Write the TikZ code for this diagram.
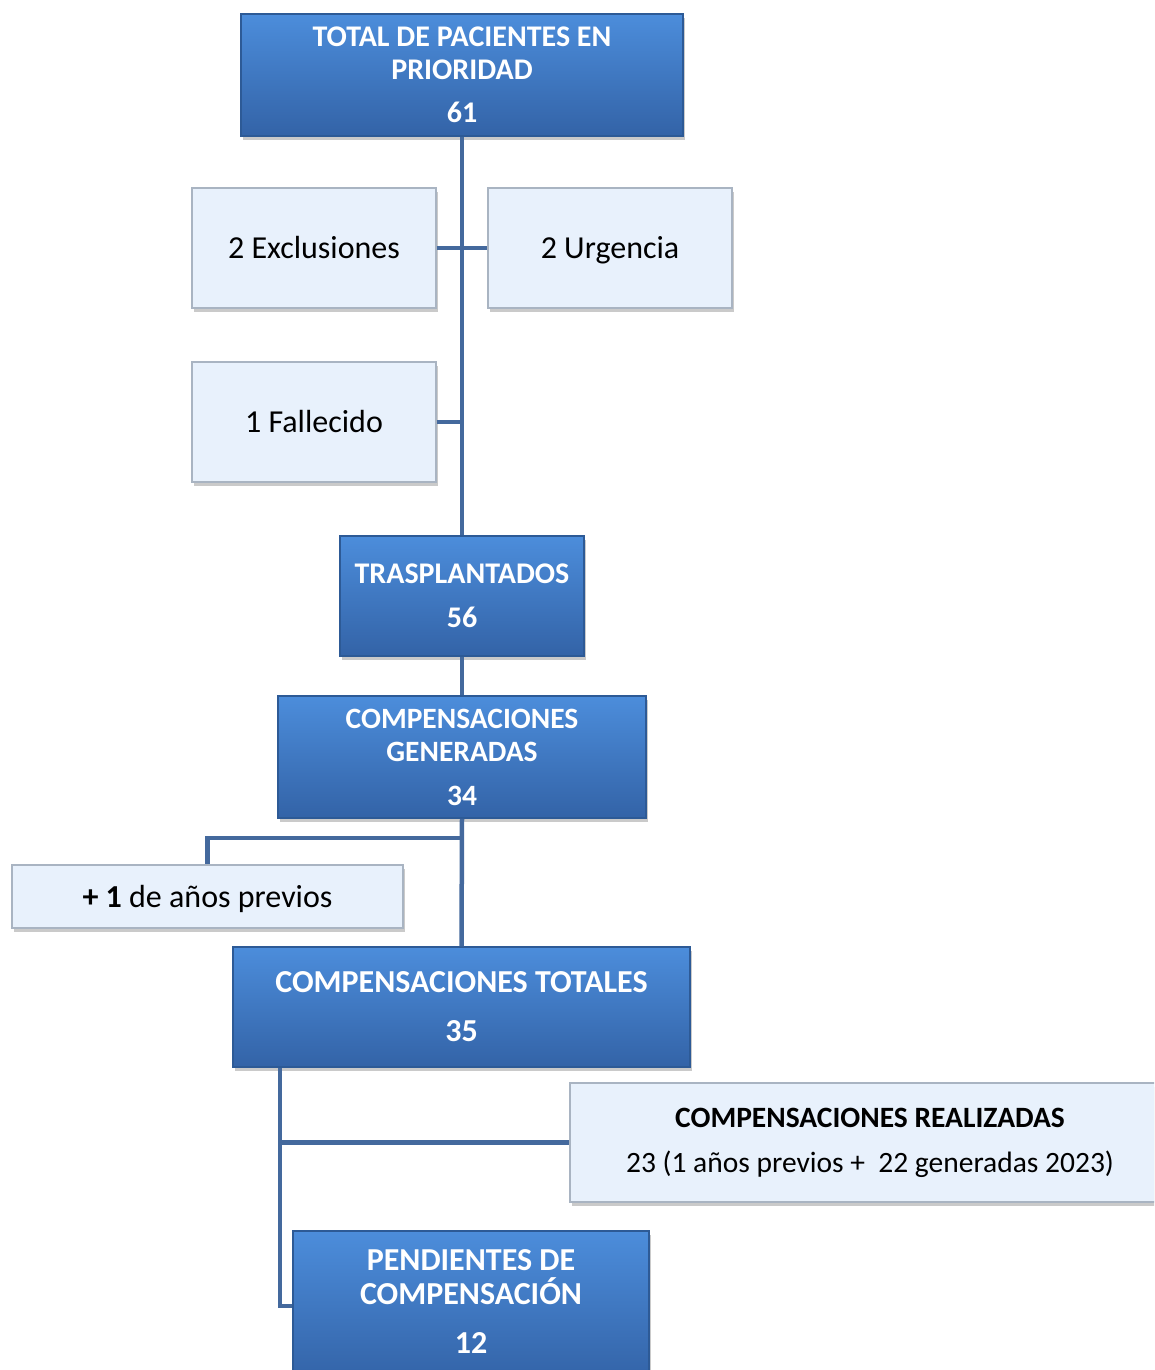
\documentclass[tikz,border=0pt]{standalone}
\usepackage{fontspec}
\setmainfont{Carlito}
\usetikzlibrary{shadows,calc}
\definecolor{bluetop}{HTML}{4C8DDB}
\definecolor{bluebot}{HTML}{3363A7}
\definecolor{blueedge}{HTML}{2D5A96}
\definecolor{lightfill}{HTML}{E8F1FC}
\definecolor{lightedge}{HTML}{A9B4C2}
\definecolor{conn}{HTML}{44699D}
\tikzset{
  bluebox/.style={rectangle, top color=bluetop, bottom color=bluebot, draw=blueedge, line width=1.5pt,
    text=white, align=center, inner sep=0pt, font=\bfseries\fontsize{30}{33}\selectfont,
    drop shadow={shadow xshift=2pt, shadow yshift=-4pt, opacity=0.35, fill=black!60}},
  lightbox/.style={rectangle, fill=lightfill, draw=lightedge, line width=1.2pt,
    text=black, align=center, inner sep=0pt, font=\fontsize{32}{36}\selectfont,
    drop shadow={shadow xshift=2pt, shadow yshift=-4pt, opacity=0.35, fill=black!60}},
  oneline/.style={text height=25pt, text depth=4pt},
  conline/.style={draw=conn, line width=4.5pt},
}
\begin{document}
\begin{tikzpicture}[x=1pt,y=-1pt]
\useasboundingbox (0,0) rectangle (1154,1370);
\clip (0,0) rectangle (1154,1370);
% boxes
\node[bluebox, minimum width=442pt, minimum height=122pt] (top) at (462,75)
  {TOTAL DE PACIENTES EN\\PRIORIDAD\\[10pt]61};
\node[lightbox, oneline, minimum width=244pt, minimum height=120pt] (excl) at (314,248)
  {2 Exclusiones};
\node[lightbox, oneline, minimum width=244pt, minimum height=120pt] (urg) at (610,248)
  {2 Urgencia};
\node[lightbox, oneline, minimum width=244pt, minimum height=120pt] (fall) at (314,422)
  {1 Fallecido};
\node[bluebox, minimum width=244pt, minimum height=120pt] (tras) at (462,596)
  {TRASPLANTADOS\\[11pt]56};
\node[bluebox, minimum width=368pt, minimum height=122pt, font=\bfseries\fontsize{29.5}{33}\selectfont] (gen) at (462,757)
  {COMPENSACIONES\\GENERADAS\\[11pt]34};
\node[lightbox, oneline, minimum width=391pt, minimum height=63pt] (prev) at (207.5,896.5)
  {\textbf{+ 1} de años previos};
\node[bluebox, minimum width=457pt, minimum height=120pt, font=\bfseries\fontsize{32}{33}\selectfont] (tot) at (461.5,1007)
  {COMPENSACIONES TOTALES\\[16pt]35};
\node[lightbox, minimum width=600pt, minimum height=119pt, font=\fontsize{29.5}{33}\selectfont] (real) at (870,1142.5)
  {\textbf{COMPENSACIONES REALIZADAS}\\[12pt]23 (1 años previos +\ \ 22 generadas 2023)};
\node[bluebox, minimum width=356pt, minimum height=150pt] (pend) at (471,1306)
  {};
\node[text=white, align=center, inner sep=0pt, font=\bfseries\fontsize{32}{34}\selectfont] (pendt) at (471,1301)
  {PENDIENTES DE\\COMPENSACIÓN\\[15pt]12};
% connector joints
\coordinate (j1) at (462,838);
\coordinate (j2) at (280,1142.5);
% connectors
\draw[conline] (top.south) -- (tras.north);
\draw[conline] (excl.east) -- (urg.west);
\draw[conline] (fall.east) -- (fall.east -| top.south);
\draw[conline] (tras.south) -- (gen.north);
\draw[conline] (gen.south) -- (tot.north);
\draw[conline] (j1) -| (prev.north);
\draw[conline] (tot.south -| j2) -- (j2 |- pend.west) -- (pend.west);
\draw[conline] (j2) -- (real.west);
\end{tikzpicture}
\end{document}
